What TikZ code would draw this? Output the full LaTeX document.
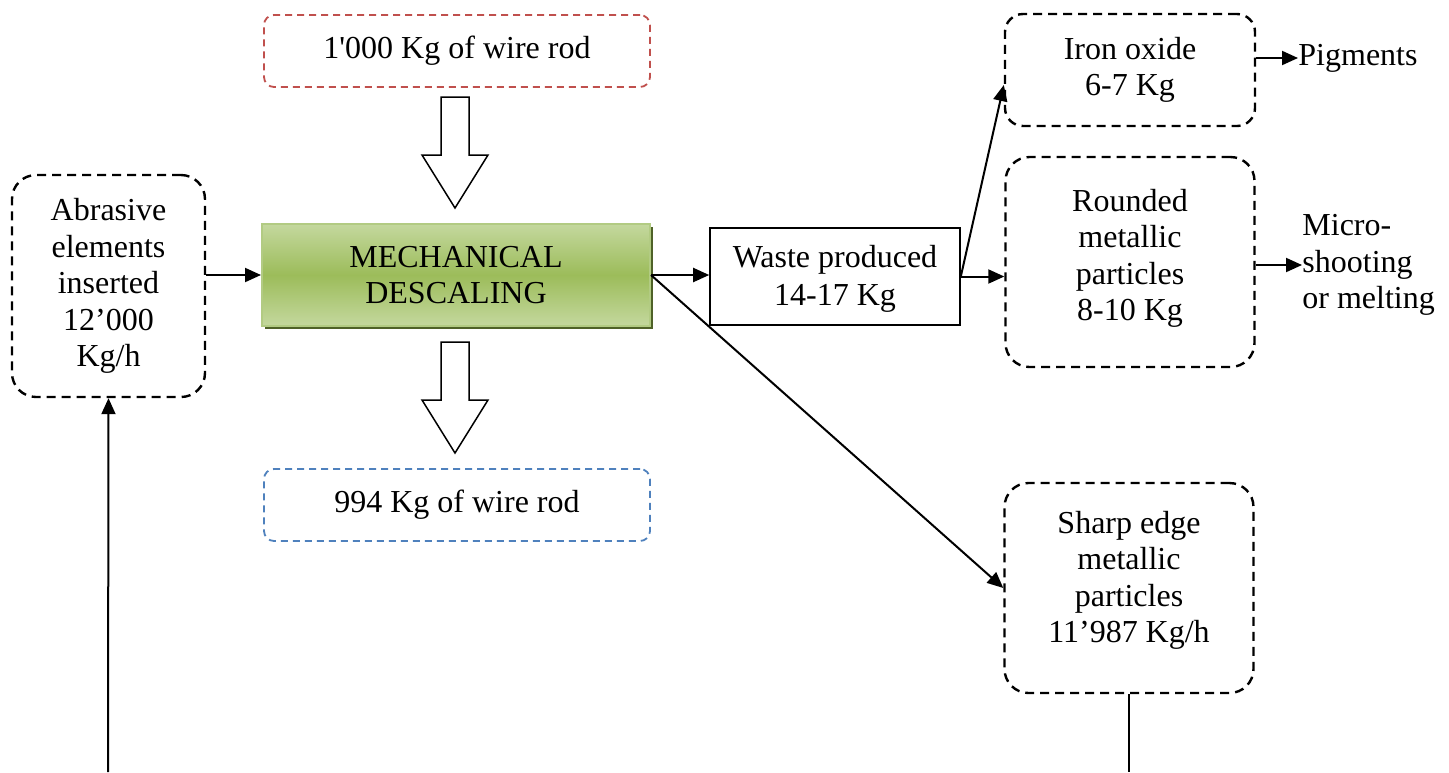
\documentclass[tikz,border=0pt]{standalone}
\usepackage{fontspec}
\setmainfont{Liberation Serif}
\usepackage{tikz}
\usetikzlibrary{arrows.meta, calc}

\definecolor{gLight}{HTML}{C4D89E}
\definecolor{gMid}{HTML}{9CBC5A}
\definecolor{gEdge}{HTML}{B2CB83}
\definecolor{gDark}{HTML}{4F6228}
\definecolor{redDash}{HTML}{C0504D}
\definecolor{blueDash}{HTML}{4F81BD}

\tikzset{
  txt/.style={font=\fontsize{16}{18.25}\selectfont, align=center, inner sep=0pt},
  dashbox/.style={txt, draw, line width=1.2pt, dash pattern=on 4.5pt off 3pt, rounded corners=12pt},
  flatbox/.style={txt, draw, dash pattern=on 3.5pt off 2.5pt, line width=0.9pt, rounded corners=5pt,
    minimum width=193pt, minimum height=36pt},
  procbox/.style={txt, draw=gEdge, line width=1pt, top color=gLight, bottom color=gLight, middle color=gMid,
    preaction={fill=gDark, transform canvas={xshift=1.6pt, yshift=-1.6pt}}},
  arr/.style={-{Triangle[length=8pt, width=7pt]}, line width=1pt},
  blockarr/.style={draw, line width=0.75pt, fill=white}
}

\begin{document}
\begin{tikzpicture}[x=0.5pt, y=-0.5pt]
\useasboundingbox (0,0) rectangle (1449,772);

\node[flatbox, draw=redDash] (rodin) at (457,51) {1\textquotesingle000 Kg of wire rod};
\node[procbox, minimum width=194pt, minimum height=51pt] (desc) at (456,275) {MECHANICAL\\DESCALING};
\node[flatbox, draw=blueDash] (rodout) at (457,505) {994 Kg of wire rod};

\node[dashbox, minimum width=96.5pt, minimum height=111pt] (abr) at (108.5,286)
  {Abrasive\\elements\\inserted\\12’000\\Kg/h\\[-15pt]\mbox{}};
\node[txt, draw, line width=0.8pt, minimum width=125pt, minimum height=48.5pt] (waste) at (835,276.5)
  {Waste produced\\[1pt]14-17 Kg\\[-17pt]\mbox{}};

\node[dashbox, rounded corners=9pt, minimum width=125pt, minimum height=56pt] (iron) at (1130,70)
  {Iron oxide\\6-7 Kg};
\node[dashbox, minimum width=124.5pt, minimum height=105pt] (round) at (1130,262)
  {Rounded\\metallic\\particles\\8-10 Kg\\[-11pt]\mbox{}};
\node[dashbox, minimum width=124.5pt, minimum height=105pt] (sharp) at (1129,588)
  {Sharp edge\\metallic\\particles\\11’987 Kg/h\\[-7.25pt]\mbox{}};

\node[txt, anchor=west] (pig) at (1298,58) {Pigments};
\node[txt, anchor=west, align=left] (micro) at (1302,265) {Micro-\\shooting\\or melting};

\coordinate (fa) at (108,772);
\coordinate (fb) at (1129,772);

% big arrows in and out of the descaling
\draw[blockarr] (441,97) -- (469,97) -- (469,155) -- (488,155) -- (455,208) -- (422,155) -- (441,155) -- cycle;
\draw[blockarr] (441,342) -- (469,342) -- (469,400) -- (488,400) -- (455,453) -- (422,400) -- (441,400) -- cycle;

\draw[arr] (abr.east |- desc.west) -- (desc.west);
\draw[arr] (desc.east) -- (desc.east -| waste.west);
\draw[arr] (waste.east) -- (waste.east -| round.west);
\draw[arr] (waste.east) -- ($(iron.west)+(0,15)$);
\draw[arr] (desc.east) -- (sharp.west);
\draw[arr] (iron.east |- pig.west) -- (pig.west);
\draw[arr] (round.east |- micro.west) -- (micro.west);

\draw[line width=1pt] (sharp.south) -- (fb);
\draw[arr] (fa) -- (abr.south);
\end{tikzpicture}
\end{document}
